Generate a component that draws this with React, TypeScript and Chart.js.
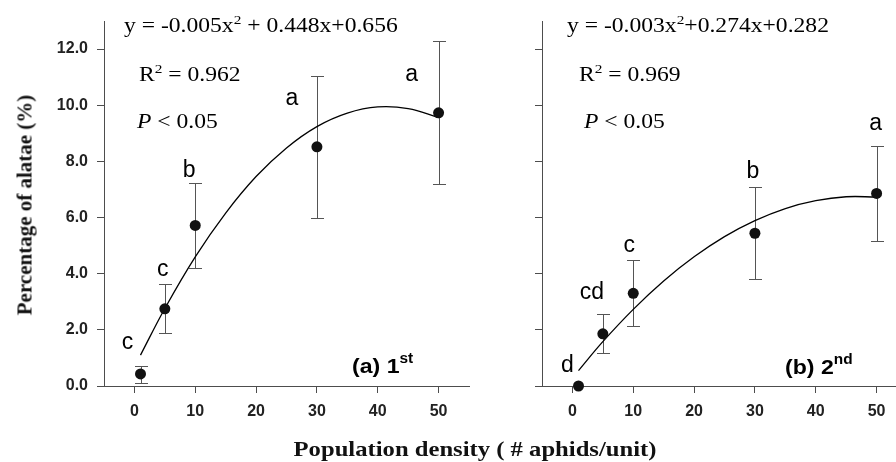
import React, { useEffect, useRef } from "react";
import { Chart, registerables } from "chart.js";

Chart.register(...registerables);

// ---------- data ----------
const X_TICKS = [0, 10, 20, 30, 40, 50];
const Y_TICKS = [0, 2, 4, 6, 8, 10, 12];
const Y_TICK_LABELS = ["0.0", "2.0", "4.0", "6.0", "8.0", "10.0", "12.0"];

const DENSITY = [1, 5, 10, 30, 50];

const GEN1_MEAN = [0.43, 2.75, 5.72, 8.52, 9.73];
const GEN1_LOW = [0.11, 1.87, 4.22, 6.0, 7.18];
const GEN1_HIGH = [0.72, 3.65, 7.23, 11.03, 12.3];
const GEN1_LETTERS = ["c", "c", "b", "a", "a"];

const GEN2_MEAN = [0.0, 1.86, 3.3, 5.44, 6.86];
const GEN2_LOW = [0.0, 1.16, 2.12, 3.8, 5.15];
const GEN2_HIGH = [0.0, 2.55, 4.47, 7.07, 8.54];
const GEN2_LETTERS = ["d", "cd", "c", "b", "a"];

// fitted curves
const CURVE_X = [1, 5, 10, 15, 20, 25, 30, 35, 40, 45, 50];
const GEN1_CURVE = [1.1, 2.76, 4.6, 6.16, 7.46, 8.48, 9.24, 9.72, 9.94, 9.88, 9.56];
const GEN2_CURVE = [0.55, 1.58, 2.73, 3.74, 4.6, 5.32, 5.89, 6.32, 6.6, 6.74, 6.73];

const GEN1_EQ = ["y = -0.005x", "2", " + 0.448x+0.656"];
const GEN2_EQ = ["y = -0.003x", "2", "+0.274x+0.282"];
const GEN1_R2 = " = 0.962";
const GEN2_R2 = " = 0.969";
const P_TEXT = " < 0.05";
const GEN1_TAG = ["(a) 1", "st"];
const GEN2_TAG = ["(b) 2", "nd"];

const X_TITLE = "Population density ( # aphids/unit)";
const Y_TITLE = "Percentage of alatae (%)";

// ---------- styles ----------
const AXIS_COLOR = "#4d4d4d";
const ERR_COLOR = "#555555";
const SERIF = '"Liberation Serif", "Times New Roman", serif';
const SANS = '"Liberation Sans", Arial, sans-serif';
const TICK_FONT = { family: '"Liberation Sans", Arial, sans-serif', weight: "bold", size: 16 };

type Run = { t: string; sup?: boolean; italic?: boolean };

function drawRuns(
  ctx: CanvasRenderingContext2D,
  runs: Run[],
  x: number,
  y: number,
  family: string,
  weight: string,
  size: number,
  supSize: number,
  supRise: number,
  sx: number
) {
  ctx.save();
  ctx.translate(x, y);
  ctx.scale(sx, 1);
  ctx.textAlign = "left";
  ctx.textBaseline = "alphabetic";
  ctx.fillStyle = "#000";
  let cx = 0;
  for (const r of runs) {
    const s = r.sup ? supSize : size;
    ctx.font = `${r.italic ? "italic " : ""}${weight} ${s}px ${family}`;
    ctx.fillText(r.t, cx, r.sup ? -supRise : 0);
    cx += ctx.measureText(r.t).width;
  }
  ctx.restore();
}

type Panel = {
  mean: number[];
  low: number[];
  high: number[];
  letters: string[];
  curve: number[];
  eq: string[];
  r2: string;
  tag: string[];
  showYLabels: boolean;
  yAxisWidth: number;
  padRight: number;
  canvasWidth: number;
  eqDx: number;
  r2Dx: number;
  pDx: number;
  tagDx: number;
  tagY: number;
  letterOffsets: [number, number][];
};

const PANEL1: Panel = {
  mean: GEN1_MEAN,
  low: GEN1_LOW,
  high: GEN1_HIGH,
  letters: GEN1_LETTERS,
  curve: GEN1_CURVE,
  eq: GEN1_EQ,
  r2: GEN1_R2,
  tag: GEN1_TAG,
  showYLabels: true,
  yAxisWidth: 104,
  padRight: 6,
  canvasWidth: 475,
  eqDx: 20,
  r2Dx: 35,
  pDx: 33,
  tagDx: 248,
  tagY: 373,
  letterOffsets: [
    [-13, -23],
    [-2, -14],
    [-6, -12],
    [-25, 22],
    [-27, 34],
  ],
};

const PANEL2: Panel = {
  mean: GEN2_MEAN,
  low: GEN2_LOW,
  high: GEN2_HIGH,
  letters: GEN2_LETTERS,
  curve: GEN2_CURVE,
  eq: GEN2_EQ,
  r2: GEN2_R2,
  tag: GEN2_TAG,
  showYLabels: false,
  yAxisWidth: 67,
  padRight: 8,
  canvasWidth: 440,
  eqDx: 25,
  r2Dx: 37,
  pDx: 42,
  tagDx: 243,
  tagY: 374,
  letterOffsets: [
    [-11, -20],
    [-11, -22],
    [-4, -15],
    [-2, -16],
    [-1, -23],
  ],
};

function makeChart(canvas: HTMLCanvasElement, p: Panel) {
  const errorBars = {
    id: "errorBars",
    beforeDatasetsDraw(chart: any) {
      const { ctx, scales } = chart;
      const xs = scales.x;
      const ys = scales.y;
      ctx.save();
      ctx.strokeStyle = ERR_COLOR;
      ctx.lineWidth = 1;
      DENSITY.forEach((d, i) => {
        if (p.high[i] === p.low[i]) return;
        const x = Math.round(xs.getPixelForValue(d)) + 0.5;
        const yt = Math.round(ys.getPixelForValue(p.high[i])) + 0.5;
        const yb = Math.round(ys.getPixelForValue(p.low[i])) + 0.5;
        ctx.beginPath();
        ctx.moveTo(x, yt);
        ctx.lineTo(x, yb);
        ctx.moveTo(x - 6.5, yt);
        ctx.lineTo(x + 6.5, yt);
        ctx.moveTo(x - 6.5, yb);
        ctx.lineTo(x + 6.5, yb);
        ctx.stroke();
      });
      ctx.restore();
    },
  };

  const annotations = {
    id: "annotations",
    afterDraw(chart: any) {
      const { ctx, scales, chartArea } = chart;
      const xs = scales.x;
      const ys = scales.y;
      const L = chartArea.left;
      drawRuns(
        ctx,
        [{ t: p.eq[0] }, { t: p.eq[1], sup: true }, { t: p.eq[2] }],
        L + p.eqDx,
        32,
        SERIF,
        "normal",
        20,
        13,
        8,
        1.18
      );
      drawRuns(
        ctx,
        [{ t: "R" }, { t: "2", sup: true }, { t: p.r2 }],
        L + p.r2Dx,
        81,
        SERIF,
        "normal",
        20,
        13,
        8,
        1.18
      );
      drawRuns(
        ctx,
        [{ t: "P", italic: true }, { t: P_TEXT }],
        L + p.pDx,
        128,
        SERIF,
        "normal",
        20,
        13,
        8,
        1.18
      );
      drawRuns(
        ctx,
        [{ t: p.tag[0] }, { t: p.tag[1], sup: true }],
        L + p.tagDx,
        p.tagY,
        SANS,
        "bold",
        21,
        14,
        10,
        1.1
      );
      ctx.save();
      ctx.font = `normal 23px ${SANS}`;
      ctx.fillStyle = "#000";
      ctx.textAlign = "center";
      ctx.textBaseline = "middle";
      DENSITY.forEach((d, i) => {
        const x = xs.getPixelForValue(d);
        const y = ys.getPixelForValue(p.high[i]);
        const [dx, dy] = p.letterOffsets[i];
        ctx.fillText(p.letters[i], x + dx, y + dy);
      });
      ctx.restore();
    },
  };

  return new Chart(canvas, {
    type: "scatter",
    data: {
      datasets: [
        {
          type: "line",
          data: CURVE_X.map((x, i) => ({ x, y: p.curve[i] })),
          borderColor: "#000",
          borderWidth: 1.3,
          pointRadius: 0,
          tension: 0.4,
          fill: false,
          order: 2,
        } as any,
        {
          type: "scatter",
          data: DENSITY.map((x, i) => ({ x, y: p.mean[i] })),
          backgroundColor: "#111",
          borderColor: "#111",
          borderWidth: 0,
          pointRadius: 5.5,
          clip: false,
          order: 1,
        } as any,
      ],
    },
    options: {
      animation: false,
      responsive: false,
      devicePixelRatio: window.devicePixelRatio || 1,
      layout: { padding: { top: 21, right: p.padRight, left: 0, bottom: 0 } },
      plugins: { legend: { display: false }, tooltip: { enabled: false } },
      scales: {
        x: {
          type: "linear",
          min: -5,
          max: 55,
          afterBuildTicks: (s: any) => {
            s.ticks = X_TICKS.map((v) => ({ value: v }));
          },
          afterFit: (s: any) => {
            s.height = 76;
          },
          grid: {
            drawOnChartArea: false,
            drawTicks: true,
            tickLength: 7,
            color: AXIS_COLOR,
            lineWidth: 1,
          },
          border: { color: AXIS_COLOR, width: 1 },
          ticks: {
            color: "#222",
            padding: 9,
            maxRotation: 0,
            autoSkip: false,
            font: TICK_FONT,
            callback: (v: any) => String(v),
          },
        },
        y: {
          type: "linear",
          min: 0,
          max: 13,
          afterBuildTicks: (s: any) => {
            s.ticks = Y_TICKS.map((v) => ({ value: v }));
          },
          afterFit: (s: any) => {
            s.width = p.yAxisWidth;
          },
          grid: {
            drawOnChartArea: false,
            drawTicks: true,
            tickLength: 7,
            color: AXIS_COLOR,
            lineWidth: 1,
          },
          border: { color: AXIS_COLOR, width: 1 },
          ticks: {
            display: p.showYLabels,
            color: "#222",
            padding: 9,
            autoSkip: false,
            font: TICK_FONT,
            callback: (v: any) => {
              const idx = Y_TICKS.indexOf(Number(v));
              return idx >= 0 ? Y_TICK_LABELS[idx] : "";
            },
          },
        },
      },
    } as any,
    plugins: [errorBars, annotations],
  });
}

function PanelChart({ panel, left }: { panel: Panel; left: number }) {
  const ref = useRef<HTMLCanvasElement | null>(null);
  useEffect(() => {
    if (!ref.current) return;
    const c = makeChart(ref.current, panel);
    return () => c.destroy();
  }, [panel]);
  return (
    <div
      style={{
        position: "absolute",
        left,
        top: 0,
        width: panel.canvasWidth,
        height: 462,
      }}
    >
      <canvas
        ref={ref}
        width={panel.canvasWidth}
        height={462}
        style={{ display: "block", width: panel.canvasWidth, height: 462 }}
      />
    </div>
  );
}

export default function App() {
  return (
    <div
      style={{
        position: "fixed",
        left: 0,
        top: 0,
        width: 896,
        height: 462,
        overflow: "hidden",
        background: "#fff",
      }}
    >
      <PanelChart panel={PANEL1} left={0} />
      <PanelChart panel={PANEL2} left={475} />
      <div
        style={{
          position: "absolute",
          left: 25,
          top: 205,
          transform: "translate(-50%, -50%) rotate(-90deg)",
          font: `bold 21px ${SERIF}`,
          whiteSpace: "nowrap",
          color: "#111",
        }}
      >
        {Y_TITLE}
      </div>
      <div
        style={{
          position: "absolute",
          left: 475,
          top: 449,
          transform: "translate(-50%, -50%) scaleX(1.12)",
          font: `bold 22px ${SERIF}`,
          whiteSpace: "nowrap",
          color: "#111",
        }}
      >
        {X_TITLE}
      </div>
    </div>
  );
}
